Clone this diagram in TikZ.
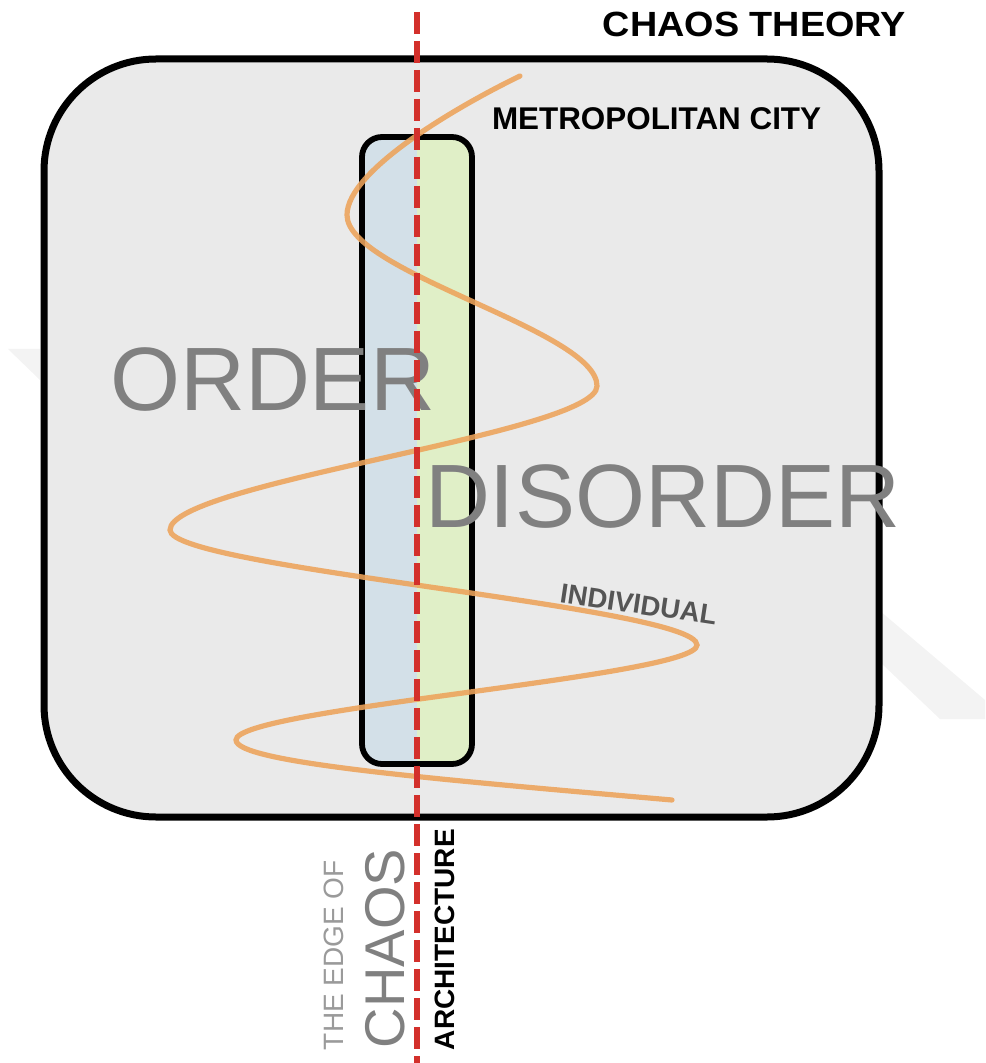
\documentclass[tikz,border=0pt]{standalone}
\usepackage{fontspec}
\setmainfont{Liberation Sans}
\usepackage{graphicx}
\definecolor{boxgray}{HTML}{EAEAEA}
\definecolor{leftblue}{HTML}{D3E0E8}
\definecolor{rightgreen}{HTML}{E0EFC7}
\definecolor{curveorange}{HTML}{EDA35A}
\definecolor{edgered}{HTML}{D3302B}
\definecolor{wordgray}{HTML}{808080}
\definecolor{lightword}{HTML}{9A9A9A}
\definecolor{indgray}{HTML}{555555}
\definecolor{wmgray}{HTML}{F3F3F3}
\begin{document}
\begin{tikzpicture}[x=0.5pt,y=-0.5pt,
  lbl/.style={inner sep=0pt, outer sep=0pt},
  outerbox/.style={line width=3.5pt, fill=boxgray, rounded corners=56pt},
  innerbox/.style={line width=2.9pt, rounded corners=10pt},
  orangecurve/.style={draw=curveorange, line width=2.6pt, line cap=round, opacity=0.88},
  redline/.style={draw=edgered, line width=3pt, dash pattern=on 11pt off 3.5pt},
  bigword/.style={lbl, text=wordgray, font=\fontsize{45}{45}\selectfont},
]
\useasboundingbox (0,0) rectangle (985,1063);
% faint watermark
\fill[wmgray] (8,349) -- (40,349) -- (40,380) -- cycle;
\fill[wmgray] (880,611) -- (985,700) -- (985,719) -- (940,719) -- (880,662) -- cycle;
% outer box
\draw[outerbox] (44,59) rectangle (879,817);
% inner box
\begin{scope}
  \clip[rounded corners=10pt] (362,137) rectangle (472,764);
  \fill[leftblue] (362,137) rectangle (417,764);
  \fill[rightgreen] (417,137) rectangle (472,764);
\end{scope}
\draw[innerbox] (362,137) rectangle (472,764);
% big words
\node[bigword, anchor=base west] (order) at (110,410) {ORDER};
\node[bigword, anchor=base west] (disorder) at (425,527) {DISORDER};
% curve
\draw[orangecurve] (520,76) .. controls (460,105) and (347,170) .. (347,215)
  .. controls (347,272.7) and (597,330.3) .. (597,386)
  .. controls (597,433.3) and (170,482.7) .. (170,530)
  .. controls (170,568.3) and (697,606.7) .. (697,645)
  .. controls (697,676.7) and (236,708.3) .. (236,740)
  .. controls (236,762) and (420,778) .. (672,800);
% red edge line
\coordinate (rtop) at (417,12);
\coordinate (rbot) at (417,1063);
\draw[redline] (rtop) -- (rbot);
% labels
\node[lbl, anchor=base east, font=\bfseries\fontsize{17.5}{17.5}\selectfont] (title) at (906,37) {\scalebox{1.08}[1]{CHAOS THEORY}};
\node[lbl, anchor=base west, font=\bfseries\fontsize{15.7}{15.7}\selectfont] (metro) at (492,130) {METROPOLITAN CITY};
\node[lbl, anchor=base west, rotate=-8.5, text=indgray, font=\bfseries\fontsize{13.8}{13.8}\selectfont] (indiv) at (559,602) {INDIVIDUAL};
\node[lbl, anchor=base west, rotate=90, text=lightword, font=\fontsize{14}{14}\selectfont] (edgeof) at (343,1050) {THE EDGE OF};
\node[lbl, anchor=base west, rotate=90, text=wordgray, font=\fontsize{28}{28}\selectfont] (chaos) at (404,1048) {CHAOS};
\node[lbl, anchor=base west, rotate=90, font=\bfseries\fontsize{14}{14}\selectfont] (arch) at (454,1050) {ARCHITECTURE};
\end{tikzpicture}
\end{document}
